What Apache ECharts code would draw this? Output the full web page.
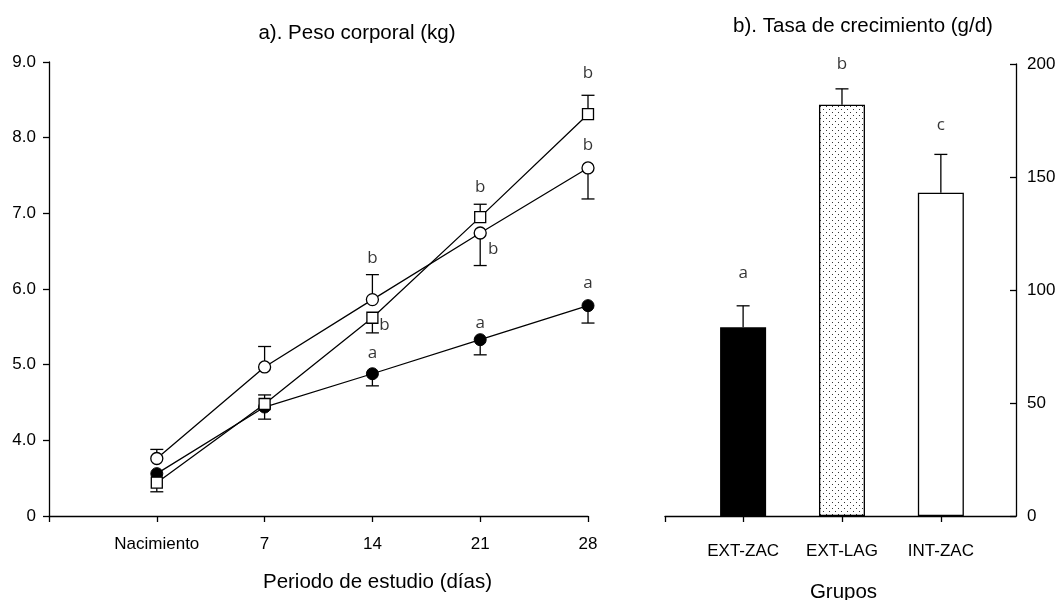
<!DOCTYPE html>
<html>
<head>
<meta charset="utf-8">
<script src="https://cdn.jsdelivr.net/npm/echarts@6/dist/echarts.min.js"></script>
<style>
  html, body { margin: 0; padding: 0; background: #fff; }
  #chart { width: 1058px; height: 600px; }
</style>
</head>
<body>
<div id="chart"></div>
<script>
// ---- Panel a: body weight (kg) by study period ----
const days = [0, 7, 14, 21, 28];
const weightOpenCircle = [3.76, 4.97, 5.86, 6.74, 7.60];
const errOpenCircle    = [3.88, 5.24, 6.19, 6.31, 7.19];
const weightSquare     = [3.44, 4.48, 5.62, 6.95, 8.31];
const errSquare        = [3.32, 4.60, 5.42, 7.12, 8.56];
const weightFilled     = [3.56, 4.44, 4.88, 5.33, 5.78];
const errFilled        = [null, 4.28, 4.72, 5.13, 5.55];

// significance letters: [day, y position, letter]
const lettersA = [
  [14, 6.41, 'b'], [14.78, 5.52, 'b'], [14, 5.15, 'a'],
  [21, 7.35, 'b'], [21.84, 6.53, 'b'], [21, 5.55, 'a'],
  [28, 8.85, 'b'], [28, 7.90, 'b'], [28, 6.08, 'a']
];

// ---- Panel b: growth rate (g/d) by group ----
const groups = ['EXT-ZAC', 'EXT-LAG', 'INT-ZAC'];
const growthRate = [83.5, 182, 143];
const growthErr  = [93, 189, 160];
const lettersB = ['a', 'b', 'c'];
const letterYB = [107.5, 200, 173];

const yTicksA = [3, 4, 5, 6, 7, 8, 9];

const FONT = 'Liberation Sans, Arial, sans-serif';
const LETTER_FONT = 'Open Sans, Noto Sans, sans-serif';
const INK = '#000';

// dotted fill for the middle bar
function dotPattern() {
  const c = document.createElement('canvas');
  c.width = 6; c.height = 6;
  const g = c.getContext('2d');
  g.fillStyle = '#fff';
  g.fillRect(0, 0, 6, 6);
  g.fillStyle = '#333';
  g.fillRect(1, 1, 1, 1);
  g.fillRect(4, 4, 1, 1);
  return c;
}

function errorRender(params, api) {
  const x = api.value(0), v = api.value(1), e = api.value(2);
  const p0 = api.coord([x, v]);
  const p1 = api.coord([x, e]);
  const hw = 6.5;
  const st = { stroke: INK, lineWidth: 1.3 };
  return {
    type: 'group',
    children: [
      { type: 'line', shape: { x1: p0[0], y1: p0[1], x2: p1[0], y2: p1[1] }, style: st },
      { type: 'line', shape: { x1: p1[0] - hw, y1: p1[1], x2: p1[0] + hw, y2: p1[1] }, style: st }
    ]
  };
}

function errData(xs, vals, ends) {
  const out = [];
  xs.forEach((x, i) => { if (ends[i] != null) out.push([x, vals[i], ends[i]]); });
  return out;
}

function pairs(xs, ys) { return xs.map((x, i) => [x, ys[i]]); }

const axisLine = { show: true, onZero: false, lineStyle: { color: INK, width: 1.3 } };
const tickStyle = { color: INK, width: 1.3 };

const chart = echarts.init(document.getElementById('chart'), null, { renderer: 'canvas' });

const barColors = [INK, { image: dotPattern(), repeat: 'repeat' }, '#fff'];

chart.setOption({
  animation: false,
  backgroundColor: '#fff',
  title: [
    { text: 'a). Peso corporal (kg)', left: 352, top: 18, textAlign: 'center',
      textStyle: { fontFamily: FONT, fontSize: 20.5, fontWeight: 'normal', color: INK } },
    { text: 'b). Tasa de crecimiento (g/d)', left: 858, top: 11, textAlign: 'center',
      textStyle: { fontFamily: FONT, fontSize: 20.5, fontWeight: 'normal', color: INK } }
  ],
  grid: [
    { left: 49, top: 62, width: 539, height: 454, outerBoundsMode: 'none', containLabel: false },
    { left: 665, top: 64, width: 351, height: 452, outerBoundsMode: 'none', containLabel: false }
  ],
  xAxis: [
    {
      gridIndex: 0, type: 'value', min: -7, max: 28, interval: 7,
      splitLine: { show: false }, axisLine: axisLine,
      axisTick: { show: true, inside: false, length: 6, lineStyle: tickStyle },
      axisLabel: {
        margin: 20, fontFamily: FONT, fontSize: 17, color: INK,
        formatter: v => v === -7 ? '' : (v === 0 ? 'Nacimiento' : String(v))
      },
      name: 'Periodo de estudio (días)', nameLocation: 'middle', nameGap: 56,
      nameTextStyle: { fontFamily: FONT, fontSize: 20.5, color: INK, padding: [0, 0, 0, 118] }
    },
    {
      gridIndex: 1, type: 'value', min: -0.79, max: 2.76,
      splitLine: { show: false }, axisLine: axisLine,
      axisTick: { show: true, inside: false, length: 6, lineStyle: tickStyle,
        customValues: [-0.79, 0, 1, 2] },
      axisLabel: {
        margin: 27, fontFamily: FONT, fontSize: 17, color: INK,
        customValues: [0, 1, 2],
        formatter: v => groups[Math.round(v)] || ''
      },
      name: 'Grupos', nameLocation: 'middle', nameGap: 66,
      nameTextStyle: { fontFamily: FONT, fontSize: 20.5, color: INK, padding: [0, 0, 0, 6] }
    }
  ],
  yAxis: [
    {
      gridIndex: 0, type: 'value', min: 3, max: 9, interval: 1,
      splitLine: { show: false }, axisLine: axisLine,
      axisTick: { show: true, inside: false, length: 6, lineStyle: tickStyle },
      axisLabel: {
        margin: 13, fontFamily: FONT, fontSize: 17, color: INK,
        formatter: v => v === yTicksA[0] ? '0' : v.toFixed(1)
      }
    },
    {
      gridIndex: 1, type: 'value', position: 'right', min: 0, max: 200, interval: 50,
      splitLine: { show: false }, axisLine: axisLine,
      axisTick: { show: true, inside: true, length: 6, lineStyle: tickStyle },
      axisLabel: { margin: 11, fontFamily: FONT, fontSize: 17, color: INK }
    }
  ],
  series: [
    // error bars (panel a)
    { type: 'custom', xAxisIndex: 0, yAxisIndex: 0, z: 1, renderItem: errorRender,
      data: errData(days, weightOpenCircle, errOpenCircle), encode: { x: 0, y: [1, 2] } },
    { type: 'custom', xAxisIndex: 0, yAxisIndex: 0, z: 1, renderItem: errorRender,
      data: errData(days, weightSquare, errSquare), encode: { x: 0, y: [1, 2] } },
    { type: 'custom', xAxisIndex: 0, yAxisIndex: 0, z: 1, renderItem: errorRender,
      data: errData(days, weightFilled, errFilled), encode: { x: 0, y: [1, 2] } },
    // lines with markers (panel a)
    { type: 'line', xAxisIndex: 0, yAxisIndex: 0, z: 3, data: pairs(days, weightFilled),
      symbol: 'circle', symbolSize: 12,
      lineStyle: { color: INK, width: 1.3 },
      itemStyle: { color: INK, borderColor: INK, borderWidth: 1 } },
    { type: 'line', xAxisIndex: 0, yAxisIndex: 0, z: 4, data: pairs(days, weightSquare),
      symbol: 'rect', symbolSize: 11,
      lineStyle: { color: INK, width: 1.3 },
      itemStyle: { color: '#fff', borderColor: INK, borderWidth: 1.3 } },
    { type: 'line', xAxisIndex: 0, yAxisIndex: 0, z: 5, data: pairs(days, weightOpenCircle),
      symbol: 'circle', symbolSize: 12,
      lineStyle: { color: INK, width: 1.3 },
      itemStyle: { color: '#fff', borderColor: INK, borderWidth: 1.3 } },
    // letters (panel a)
    { type: 'scatter', xAxisIndex: 0, yAxisIndex: 0, z: 6, symbolSize: 0,
      data: lettersA.map(d => [d[0], d[1], d[2]]),
      label: { show: true, position: 'inside', formatter: p => p.value[2],
        fontFamily: LETTER_FONT, fontSize: 17, color: INK } },
    // error bars (panel b)
    { type: 'custom', xAxisIndex: 1, yAxisIndex: 1, z: 1, renderItem: errorRender,
      data: errData([0, 1, 2], growthRate, growthErr), encode: { x: 0, y: [1, 2] } },
    // bars (panel b)
    { type: 'bar', xAxisIndex: 1, yAxisIndex: 1, z: 3, barWidth: 46,
      data: growthRate.map((v, i) => ({
        value: [i, v],
        itemStyle: { color: barColors[i], borderColor: INK, borderWidth: 1.3 }
      })) },
    // letters (panel b)
    { type: 'scatter', xAxisIndex: 1, yAxisIndex: 1, z: 6, symbolSize: 0,
      data: lettersB.map((l, i) => [i, letterYB[i], l]),
      label: { show: true, position: 'inside', formatter: p => p.value[2],
        fontFamily: LETTER_FONT, fontSize: 17, color: INK } }
  ]
});
</script>
</body>
</html>
